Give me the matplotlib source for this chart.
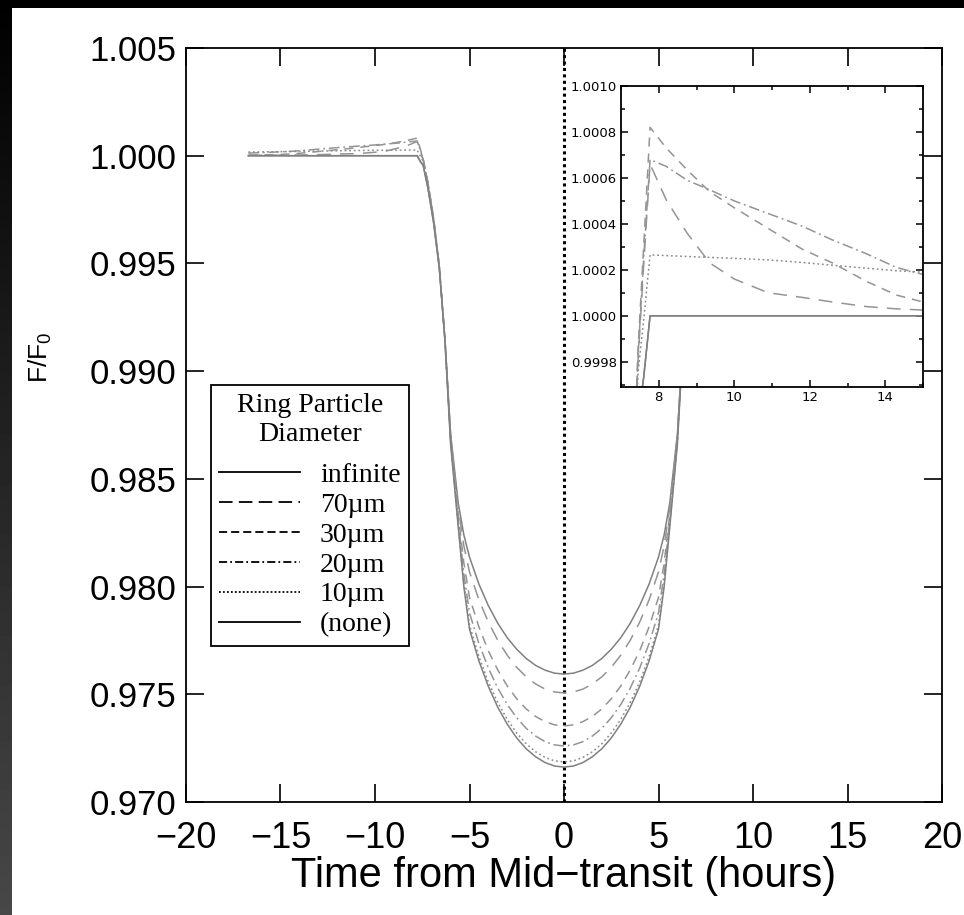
import numpy as np
import matplotlib.pyplot as plt
from matplotlib.lines import Line2D
from matplotlib.patches import Rectangle
from matplotlib.ticker import FormatStrFormatter, MultipleLocator

plt.rcParams['font.family'] = ['Liberation Sans', 'DejaVu Sans']
plt.rcParams['mathtext.fontset'] = 'custom'
plt.rcParams['mathtext.rm'] = 'Liberation Sans'
plt.rcParams['mathtext.it'] = 'Liberation Sans'

# hours after mid-transit (the curves are symmetric, the left half is mirrored)
hours = [0, 0.5, 1, 1.5, 2, 2.5, 3, 3.5, 4, 4.5, 5, 5.3, 5.6, 6.0, 6.3, 6.6, 6.9, 7.2,
         7.45, 7.6, 7.77, 8.2, 8.75, 9.35, 10.0, 10.9, 11.8, 12.6, 13.5, 14.3, 15.0, 16.7]

flux_infinite = [0.97594, 0.97598, 0.97612, 0.97634, 0.97666, 0.97709, 0.97762, 0.97829,
                 0.97911, 0.98011, 0.98137, 0.9824, 0.9839, 0.9871, 0.9915, 0.9948,
                 0.9969, 0.9985, 0.99955, 0.99973,
                 1.0, 1.0, 1.0, 1.0, 1.0, 1.0, 1.0, 1.0, 1.0, 1.0, 1.0, 1.0]
flux_70um = [0.97506, 0.97511, 0.97524, 0.97548, 0.97581, 0.97625, 0.97681, 0.97750,
             0.97834, 0.97938, 0.98068, 0.9819, 0.9837, 0.9870, 0.9915, 0.9949,
             0.9971, 0.99875, 0.99980, 1.00022,
             1.00066, 1.000504, 1.00036, 1.00023, 1.00016, 1.00010, 1.00008, 1.00006,
             1.00004, 1.00003, 1.000025, 1.00002]
flux_30um = [0.97353, 0.97358, 0.97373, 0.97397, 0.97432, 0.97479, 0.97538, 0.97612,
             0.97701, 0.97812, 0.97950, 0.9811, 0.9834, 0.9869, 0.9915, 0.9949,
             0.9971, 0.99875, 0.99985, 1.0003,
             1.00082, 1.00073, 1.000635, 1.00054, 1.00047, 1.00038, 1.00029, 1.00023,
             1.00015, 1.00009, 1.00006, 1.00002]
flux_20um = [0.9726, 0.97265, 0.9728, 0.97306, 0.97342, 0.97391, 0.97452, 0.97528,
             0.97621, 0.97735, 0.97878, 0.9806, 0.9831, 0.9868, 0.9915, 0.9949,
             0.9971, 0.99875, 0.99982, 1.00025,
             1.00068, 1.00065, 1.00059, 1.000548, 1.0005, 1.000445, 1.00039, 1.00033,
             1.00027, 1.00021, 1.00018, 1.00012]
flux_10um = [0.97186, 0.97191, 0.97207, 0.97233, 0.9727, 0.9732, 0.97383, 0.97461,
             0.97556, 0.97674, 0.97821, 0.9802, 0.9829, 0.9868, 0.9915, 0.9949,
             0.9970, 0.99870, 0.99975, 0.99998,
             1.000265, 1.000262, 1.000258, 1.000254, 1.00025, 1.000243, 1.000232, 1.00022,
             1.000207, 1.000196, 1.00019, 1.00017]
flux_none = [0.97162, 0.97167, 0.97183, 0.9721, 0.97247, 0.97297, 0.97361, 0.97439,
             0.97536, 0.97654, 0.97802, 0.9800, 0.9828, 0.9866, 0.9914, 0.9948,
             0.9969, 0.9985, 0.99955, 0.99973,
             1.0, 1.0, 1.0, 1.0, 1.0, 1.0, 1.0, 1.0, 1.0, 1.0, 1.0, 1.0]

labels = ['infinite', '70µm', '30µm', '20µm', '10µm', '(none)']
series = [flux_infinite, flux_70um, flux_30um, flux_20um, flux_10um, flux_none]
styles = ['-', (0, (9, 6)), (0, (6, 4.5)), (0, (7, 2.5, 1.2, 2.5)), (0, (1.2, 1.8)), '-']
legend_styles = ['-', (0, (7.5, 3.5)), (0, (4.5, 2.2)), (0, (4.5, 1.7, 1, 1.7)), (0, (1, 1.2)), '-']
colors = ['0.5', '0.58', '0.58', '0.58', '0.55', '0.5']


def mirror(h, v):
    h = np.asarray(h, dtype=float)
    v = np.asarray(v, dtype=float)
    return np.concatenate([-h[::-1], h[1:]]), np.concatenate([v[::-1], v[1:]])


fig = plt.figure(figsize=(9.64, 9.15), dpi=100, facecolor='white')

# black band on top and dark strip on the left
fig.patches.append(Rectangle((0, 1 - 8 / 915), 1, 8 / 915, transform=fig.transFigure,
                             facecolor='black', edgecolor='none'))
strip = fig.add_axes([0, 0, 12 / 964, 1])
strip.imshow(np.linspace(0.0, 0.28, 200)[:, None], cmap='gray', vmin=0, vmax=1, aspect='auto')
strip.axis('off')

ax = fig.add_axes([186 / 964, (915 - 802) / 915, (942 - 186) / 964, (802 - 48) / 915])
ax.axvline(0, color='black', lw=2.2, ls=(0, (1, 1.1)), zorder=1)
for v, ls, c in zip(series, styles, colors):
    t, f = mirror(hours, v)
    ax.plot(t, f, color=c, lw=1.1, ls=ls, zorder=2)

ax.set_xlim(-20, 20)
ax.set_ylim(0.970, 1.005)
ax.set_xticks(range(-20, 21, 5))
ax.set_yticks(np.arange(0.970, 1.0051, 0.005))
ax.yaxis.set_major_formatter(FormatStrFormatter('%.3f'))
ax.tick_params(direction='in', length=13, width=1.2, top=True, right=True, pad=7)
ax.tick_params(axis='x', labelsize=26, pad=14)
ax.tick_params(axis='y', labelsize=25)
for s in ax.spines.values():
    s.set_linewidth(1.3)
ax.set_xlabel('Time from Mid\u2212transit (hours)', fontsize=30, labelpad=0)
ax.set_ylabel('F/F$_0$', fontsize=19)
ax.yaxis.set_label_coords(-0.175, 0.59)

handles = [Line2D([], [], color='black', lw=1.3, ls=ls) for ls in legend_styles]
leg = ax.legend(handles, labels, title='Ring Particle\nDiameter', loc='upper left',
                bbox_to_anchor=((211 - 186) / 756, (802 - 385) / 754),
                prop={'family': 'Liberation Serif', 'size': 20},
                title_fontproperties={'family': 'Liberation Serif', 'size': 20},
                frameon=True, fancybox=False, edgecolor='black', framealpha=1,
                handlelength=2.9, handletextpad=0.72, labelspacing=0.16,
                borderpad=0.3, borderaxespad=0)
leg.get_frame().set_linewidth(1.3)
leg.get_title().set_multialignment('center')
leg._legend_box.sep = 11

# inset zoom on egress
axins = fig.add_axes([621 / 964, (915 - 387) / 915, 302 / 964, 301 / 915])
for v, ls, c in zip(series, styles, colors):
    t, f = mirror(hours, v)
    axins.plot(t, f, color=c, lw=1.1, ls=ls)
axins.set_xlim(7, 15)
axins.set_ylim(0.99969, 1.0010)
axins.set_xticks([8, 10, 12, 14])
axins.xaxis.set_minor_locator(MultipleLocator(1))
axins.set_yticks(np.arange(0.9998, 1.00101, 0.0002))
axins.yaxis.set_minor_locator(MultipleLocator(0.0001))
axins.yaxis.set_major_formatter(FormatStrFormatter('%.4f'))
axins.tick_params(which='both', direction='in', top=True, right=True, pad=3)
axins.tick_params(which='major', length=5, width=1.1)
axins.tick_params(which='minor', length=3, width=1.1)
for lab in axins.get_xticklabels() + axins.get_yticklabels():
    lab.set_fontfamily('DejaVu Sans')
    lab.set_fontsize(9.5)
for s in axins.spines.values():
    s.set_linewidth(1.3)

fig.savefig('out.png', dpi=100)
